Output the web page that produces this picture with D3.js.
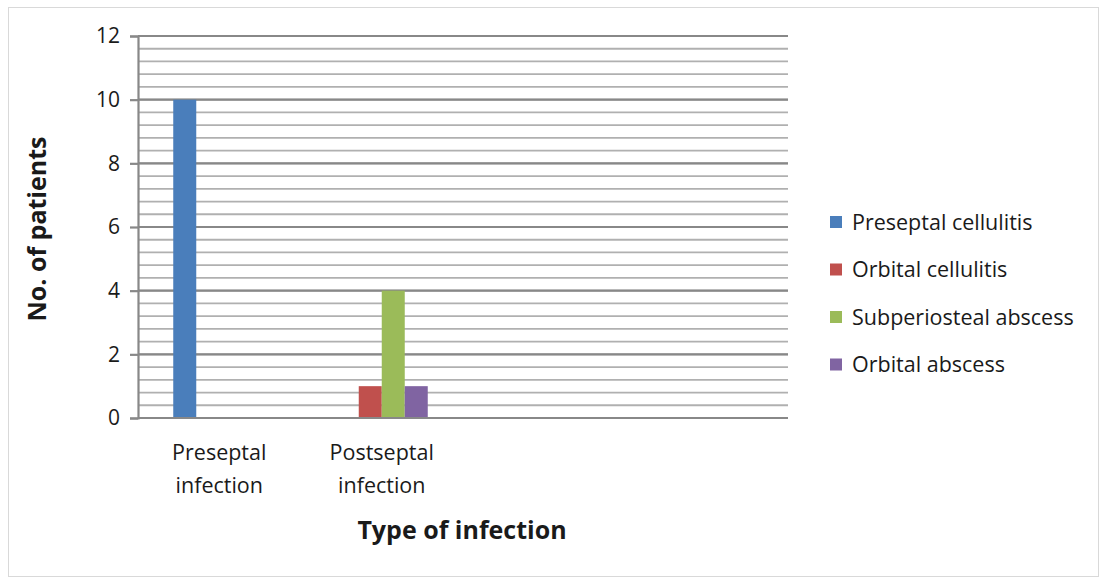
<!DOCTYPE html>
<html>
<head>
<meta charset="utf-8">
<script src="https://cdnjs.cloudflare.com/ajax/libs/d3/7.8.5/d3.min.js"></script>
<style>
  body { margin: 0; background: #fff; }
  text { font-family: "Open Sans", "Noto Sans", sans-serif; fill: #1a1a1a; }
</style>
</head>
<body>
<svg id="chart" width="1108" height="579"></svg>
<script>
// categories on the x axis (last two slots are empty in the original)
var categories = [["Preseptal", "infection"], ["Postseptal", "infection"], [], []];
var seriesNames = ["Preseptal cellulitis", "Orbital cellulitis", "Subperiosteal abscess", "Orbital abscess"];
var preseptalCellulitis = [10, 0, 0, 0];
var orbitalCellulitis = [0, 1, 0, 0];
var subperiostealAbscess = [0, 4, 0, 0];
var orbitalAbscess = [0, 1, 0, 0];
var yTicks = [0, 2, 4, 6, 8, 10, 12];

var colors = ["#4a7ebb", "#c0504d", "#9bbb59", "#8064a2"];
var series = [preseptalCellulitis, orbitalCellulitis, subperiostealAbscess, orbitalAbscess];

var svg = d3.select("#chart");

// outer frame
svg.append("rect")
  .attr("x", 8.5).attr("y", 7.5)
  .attr("width", 1090).attr("height", 569)
  .attr("fill", "none").attr("stroke", "#d9d9d9");

var margin = { left: 138, top: 36, right: 788, bottom: 418 };

var x = d3.scaleBand()
  .domain(d3.range(categories.length))
  .range([margin.left, margin.right]);

var xInner = d3.scaleBand()
  .domain(d3.range(series.length))
  .range([0, 92]);

var y = d3.scaleLinear()
  .domain([0, 12])
  .range([margin.bottom, margin.top]);

// minor grid lines every 0.4
var g = svg.append("g");
g.selectAll("line.minor")
  .data(d3.range(0, 12.01, 0.4))
  .enter().append("line")
  .attr("class", "minor")
  .attr("x1", margin.left).attr("x2", margin.right)
  .attr("y1", function (d) { return y(d); })
  .attr("y2", function (d) { return y(d); })
  .attr("stroke", "#b0b0b0").attr("stroke-width", 1.8);

// major grid lines
g.selectAll("line.major")
  .data(yTicks)
  .enter().append("line")
  .attr("class", "major")
  .attr("x1", margin.left).attr("x2", margin.right)
  .attr("y1", function (d) { return y(d); })
  .attr("y2", function (d) { return y(d); })
  .attr("stroke", "#888").attr("stroke-width", 2.2);

// bars
series.forEach(function (vals, si) {
  svg.append("g").selectAll("rect")
    .data(vals.map(function (v, i) { return { v: v, i: i }; }).filter(function (d) { return d.v > 0; }))
    .enter().append("rect")
    .attr("x", function (d) { return x(d.i) + x.bandwidth() / 2 - 46 + xInner(si); })
    .attr("width", xInner.bandwidth())
    .attr("y", function (d) { return y(d.v); })
    .attr("height", function (d) { return y(0) - y(d.v); })
    .attr("fill", colors[si]);
});

// y axis
var yAxis = svg.append("g")
  .attr("transform", "translate(" + margin.left + ",0)")
  .call(d3.axisLeft(y).tickValues(yTicks).tickSize(8).tickPadding(10));
yAxis.select(".domain").attr("stroke", "#888").attr("stroke-width", 2.2);
yAxis.selectAll(".tick line").attr("stroke", "#888").attr("stroke-width", 2.2);
yAxis.selectAll(".tick text")
  .style("font-size", "21px")
  .style("font-family", "'Open Sans', sans-serif")
  .attr("fill", "#1a1a1a");

// x axis line
svg.append("line")
  .attr("x1", margin.left).attr("x2", margin.right)
  .attr("y1", y(0)).attr("y2", y(0))
  .attr("stroke", "#888").attr("stroke-width", 2.2);

// category labels
var xl = svg.append("g").selectAll("text")
  .data(categories)
  .enter().append("text")
  .attr("text-anchor", "middle")
  .style("font-size", "21.5px")
  .attr("x", function (d, i) { return x(i) + x.bandwidth() / 2; })
  .attr("y", 460);
xl.selectAll("tspan")
  .data(function (d) { return d; })
  .enter().append("tspan")
  .attr("x", function () { return d3.select(this.parentNode).attr("x"); })
  .attr("dy", function (d, i) { return i === 0 ? 0 : 33; })
  .text(function (d) { return d; });

// axis titles
svg.append("text")
  .attr("x", 462).attr("y", 539)
  .attr("text-anchor", "middle")
  .style("font-size", "25px").style("font-weight", "bold")
  .text("Type of infection");

svg.append("text")
  .attr("transform", "translate(46,229) rotate(-90)")
  .attr("text-anchor", "middle")
  .style("font-size", "25px").style("font-weight", "bold")
  .text("No. of patients");

// legend
var legend = svg.append("g").selectAll("g")
  .data(seriesNames)
  .enter().append("g")
  .attr("transform", function (d, i) { return "translate(830," + (222 + i * 47.5) + ")"; });
legend.append("rect")
  .attr("x", 0).attr("y", -6).attr("width", 12).attr("height", 12)
  .attr("fill", function (d, i) { return colors[i]; });
legend.append("text")
  .attr("x", 22).attr("y", 0).attr("dy", "0.35em")
  .style("font-size", "21.5px")
  .text(function (d) { return d; });
</script>
</body>
</html>
